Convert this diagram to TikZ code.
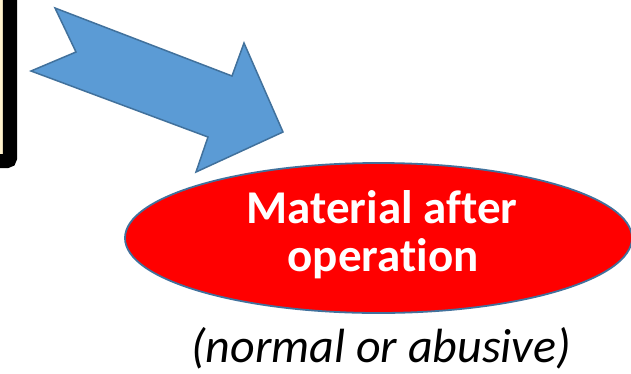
\documentclass[tikz,border=0pt]{standalone}
\usepackage{fontspec}
\setmainfont{Carlito}[Ligatures={NoCommon}]
\usetikzlibrary{shapes.geometric}
\definecolor{cream}{HTML}{FFF2CC}
\definecolor{arrowblue}{HTML}{5B9BD5}
\definecolor{edgeblue}{HTML}{41719C}
\definecolor{matred}{HTML}{FF0000}
\tikzset{
  blockarrow/.style={fill=arrowblue, draw=edgeblue, line width=1.5bp, line join=miter},
  matellipse/.style={ellipse, fill=matred, draw=edgeblue, line width=1.8bp, minimum width=507bp, minimum height=150bp, inner sep=0pt},
  mattext/.style={text=white, font=\fontsize{47bp}{48bp}\selectfont\bfseries, inner sep=0pt, anchor=base},
  notetext/.style={text=black, font=\fontsize{48bp}{50bp}\selectfont\itshape, inner sep=0pt, anchor=base},
  framebox/.style={fill=cream, draw=black, line width=14bp, rounded corners=3bp}
}
\begin{document}
\begin{tikzpicture}[x=1bp,y=-1bp]
\useasboundingbox (0,0) rectangle (631,373);
\fill[white] (0,0) rectangle (631,373);
% partially visible box on the left
\draw[framebox] (-60,-60) rectangle (10,161);
% block arrow
\draw[blockarrow] (55,8) -- (232,76) -- (244,43) -- (283,132) -- (196,172) -- (208,137) -- (31,71) -- (76,52) -- cycle;
% ellipse
\node[matellipse] (mat) at (378.5,238) {};
\node[mattext] (matline1) at (382,223) {Material after};
\node[mattext] (matline2) at (383,271) {operation};
\node[notetext] (note) at (381,362) {(normal or abusive)};
\end{tikzpicture}
\end{document}
